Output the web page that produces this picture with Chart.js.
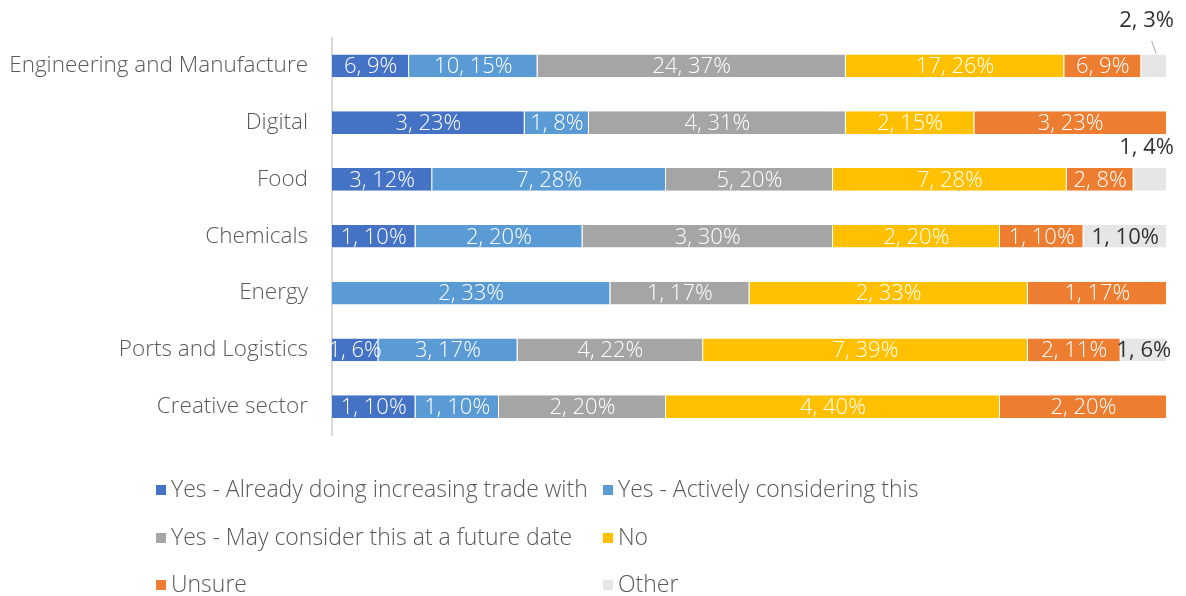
<!DOCTYPE html>
<html>
<head>
<meta charset="utf-8">
<title>Trade intentions by sector</title>
<script src="https://cdn.jsdelivr.net/npm/chart.js@4.4.1/dist/chart.umd.min.js"></script>
<style>
  body { margin: 0; background: #fff; font-family: "Open Sans", "Noto Sans", sans-serif; }
  #wrap { position: relative; width: 1186px; height: 596px; }
  #legenda { position: absolute; left: 0; top: 0; width: 1186px; height: 596px; pointer-events: none; }
  .item { position: absolute; font-size: 23px; font-weight: 300; color: #595959; white-space: nowrap; line-height: 26px; }
  .item span.box { display: inline-block; width: 10px; height: 10px; margin-right: 5px; vertical-align: 2px; }
</style>
</head>
<body>
<div id="wrap">
  <canvas id="grafico" width="1186" height="596"></canvas>
  <div id="legenda"></div>
</div>
<script>
const categorias = ['Engineering and Manufacture', 'Digital', 'Food', 'Chemicals', 'Energy', 'Ports and Logistics', 'Creative sector'];

// respostas (contagens) por setor
const jaNegociando = [6, 3, 3, 1, 0, 1, 1];
const considerando = [10, 1, 7, 2, 2, 3, 1];
const futuro       = [24, 4, 5, 3, 1, 4, 2];
const nao          = [17, 2, 7, 2, 2, 7, 4];
const incerto      = [6, 3, 2, 1, 1, 2, 2];
const outro        = [2, 0, 1, 1, 0, 1, 0];

const series = [jaNegociando, considerando, futuro, nao, incerto, outro];
const nomes = ['Yes - Already doing increasing trade with', 'Yes - Actively considering this',
  'Yes - May consider this at a future date', 'No', 'Unsure', 'Other'];
const cores = ['#4472C4', '#5B9BD5', '#A5A5A5', '#FFC000', '#ED7D31', '#E7E6E6'];

const totais = categorias.map((_, i) => series.reduce((s, arr) => s + arr[i], 0));

const fonte = '"Open Sans", "Noto Sans", sans-serif';

// rótulos "contagem, %" dentro de cada segmento
const rotulos = {
  id: 'rotulos',
  afterDatasetsDraw(chart) {
    const ctx = chart.ctx;
    ctx.save();
    ctx.textAlign = 'center';
    ctx.textBaseline = 'middle';
    chart.data.datasets.forEach((ds, di) => {
      const meta = chart.getDatasetMeta(di);
      meta.data.forEach((bar, i) => {
        const n = series[di][i];
        if (!n) return;
        const texto = n + ', ' + Math.round(n / totais[i] * 100) + '%';
        const esq = Math.min(bar.x, bar.base), dir = Math.max(bar.x, bar.base);
        const cx = (esq + dir) / 2;
        const cy = bar.y;
        const ultimo = di === series.length - 1;
        ctx.font = (ultimo ? '400' : '300') + ' 22px ' + fonte;
        ctx.fillStyle = ultimo ? '#333333' : '#ffffff';
        if (ultimo && dir - esq < 36) {
          // segmento pequeno: rótulo acima da barra
          const w = ctx.measureText(texto).width;
          const lx = Math.min(cx, chart.width - 12 - w / 2);
          const deslocado = cx - lx > 4;
          const ly = cy - (deslocado ? 45 : 32);
          if (deslocado) {
            ctx.strokeStyle = '#a6a6a6';
            ctx.lineWidth = 1;
            ctx.beginPath();
            ctx.moveTo(lx + 5, ly + 20);
            ctx.lineTo(cx + 2, cy - bar.height / 2 - 1);
            ctx.stroke();
          }
          ctx.fillText(texto, lx, ly);
        } else {
          ctx.fillText(texto, cx, cy + 1);
        }
      });
    });
    ctx.restore();
  }
};

const ctx = document.getElementById('grafico').getContext('2d');
const grafico = new Chart(ctx, {
  type: 'bar',
  data: {
    labels: categorias,
    datasets: series.map((arr, k) => ({
      label: nomes[k],
      data: arr.map((v, i) => v / totais[i] * 100),
      backgroundColor: cores[k],
      borderColor: '#ffffff',
      borderWidth: { right: 1 },
      borderSkipped: false,
      barPercentage: 1,
      categoryPercentage: 0.4
    }))
  },
  options: {
    indexAxis: 'y',
    responsive: false,
    animation: false,
    layout: { padding: { top: 35, bottom: 161, left: 0, right: 19 } },
    plugins: {
      legend: { display: false },
      tooltip: { enabled: false }
    },
    scales: {
      x: { stacked: true, min: 0, max: 100, display: false },
      y: {
        stacked: true,
        grid: { display: false, drawTicks: false },
        border: { display: true, color: '#d9d9d9', width: 2 },
        ticks: { color: '#595959', padding: 24, font: { family: fonte, size: 22.5, weight: '300' } },
        afterFit(scale) { scale.width = 332; }
      }
    }
  },
  plugins: [rotulos]
});

// legenda em duas colunas
const legenda = document.getElementById('legenda');
const colunas = [156, 603];
const linhas = [475, 523, 570];
nomes.forEach((nome, k) => {
  const div = document.createElement('div');
  div.className = 'item';
  div.style.left = colunas[k % 2] + 'px';
  div.style.top = linhas[Math.floor(k / 2)] + 'px';
  div.innerHTML = '<span class="box" style="background:' + cores[k] + '"></span>' + nome;
  legenda.appendChild(div);
});
</script>
</body>
</html>
